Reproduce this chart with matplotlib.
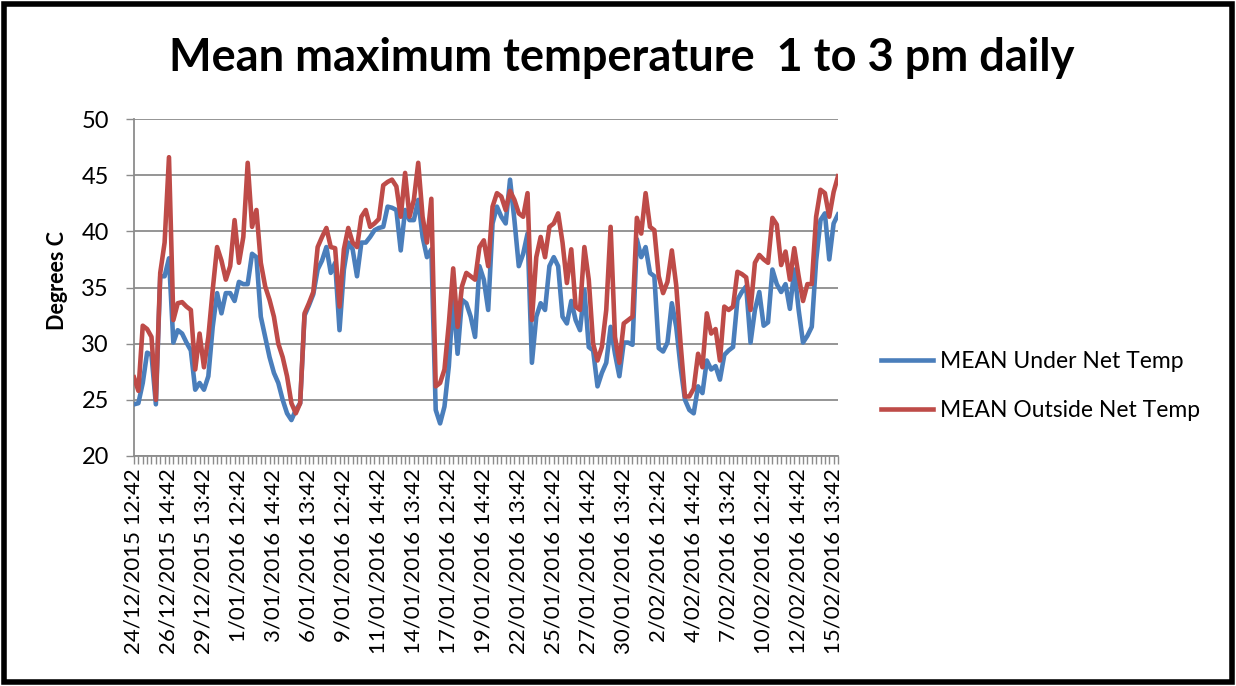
import numpy as np
import matplotlib
matplotlib.use("Agg")
import matplotlib.pyplot as plt
from matplotlib.patches import Rectangle

plt.rcParams["font.family"] = ["Lato", "DejaVu Sans"]

# readings taken at 12:42, 13:42 and 14:42 each day, 24/12/2015 - 15/02/2016
under_net = [
    24.6, 24.7, 26.5, 29.2, 29.0, 24.6, 36.0, 36.0, 37.6, 30.1,
    31.2, 30.9, 30.1, 29.4, 25.9, 26.5, 25.9, 27.1, 31.5, 34.5,
    32.7, 34.5, 34.5, 33.8, 35.5, 35.3, 35.3, 38.0, 37.7, 32.4,
    30.6, 28.8, 27.4, 26.5, 25.0, 23.8, 23.2, 24.1, 24.7, 32.5,
    33.4, 34.4, 36.6, 37.4, 38.6, 36.3, 37.2, 31.2, 36.6, 39.0,
    38.4, 36.0, 39.0, 39.0, 39.5, 40.1, 40.3, 40.4, 42.2, 42.1,
    41.9, 38.3, 41.9, 41.0, 41.0, 42.8, 39.5, 37.7, 38.4, 24.1,
    22.9, 24.4, 28.0, 34.2, 29.1, 33.9, 33.6, 32.4, 30.6, 36.9,
    35.7, 33.0, 40.7, 42.2, 41.3, 40.7, 44.6, 41.0, 36.9, 38.0,
    39.8, 28.3, 32.4, 33.6, 33.0, 36.9, 37.7, 36.9, 32.4, 31.8,
    33.8, 32.1, 31.2, 34.8, 29.7, 29.4, 26.2, 27.4, 28.3, 31.5,
    29.1, 27.1, 30.1, 30.1, 29.9, 39.3, 37.7, 38.6, 36.3, 36.0,
    29.6, 29.3, 30.1, 33.6, 31.5, 27.9, 25.0, 24.1, 23.8, 26.2,
    25.6, 28.5, 27.7, 28.0, 26.8, 29.0, 29.4, 29.7, 33.9, 34.6,
    35.1, 30.1, 33.0, 34.6, 31.6, 31.9, 36.6, 35.3, 34.6, 35.3,
    33.1, 36.6, 33.0, 30.1, 30.7, 31.5, 37.4, 41.0, 41.6, 37.5,
    40.7, 41.5,
]

outside_net = [
    27.0, 25.8, 31.6, 31.3, 30.6, 25.0, 36.3, 39.0, 46.6, 32.1,
    33.6, 33.7, 33.3, 33.0, 27.7, 30.9, 27.9, 30.6, 34.8, 38.6,
    37.4, 35.7, 36.9, 41.0, 37.2, 39.5, 46.1, 40.4, 41.9, 37.2,
    35.1, 33.9, 32.4, 30.0, 28.8, 27.1, 24.7, 23.8, 24.7, 32.7,
    33.6, 34.6, 38.6, 39.5, 40.3, 38.6, 38.5, 33.3, 38.4, 40.3,
    39.0, 38.6, 41.3, 41.9, 40.4, 40.7, 41.1, 44.1, 44.4, 44.6,
    44.0, 41.3, 45.2, 41.3, 42.8, 46.1, 41.3, 39.0, 42.9, 26.2,
    26.5, 27.7, 31.8, 36.7, 31.5, 35.1, 36.3, 36.0, 35.7, 38.6,
    39.2, 36.9, 42.2, 43.4, 43.1, 41.9, 43.6, 42.8, 41.6, 41.3,
    43.4, 32.1, 37.7, 39.5, 37.7, 40.4, 40.7, 41.6, 39.0, 35.4,
    38.4, 33.3, 33.0, 38.6, 35.7, 30.0, 28.5, 29.7, 33.0, 40.4,
    30.6, 28.3, 31.8, 32.1, 32.4, 41.2, 39.8, 43.4, 40.4, 40.1,
    36.0, 34.5, 35.5, 38.3, 35.2, 30.0, 25.3, 25.3, 26.0, 29.1,
    27.9, 32.7, 30.9, 31.3, 28.5, 33.3, 33.0, 33.3, 36.4, 36.2,
    35.9, 33.0, 37.2, 37.9, 37.5, 37.2, 41.2, 40.6, 37.0, 38.2,
    35.7, 38.5, 36.0, 33.8, 35.3, 35.3, 41.3, 43.7, 43.4, 41.3,
    43.5, 44.9,
]

tick_labels = [
    "24/12/2015 12:42", "26/12/2015 14:42", "29/12/2015 13:42",
    "1/01/2016 12:42", "3/01/2016 14:42", "6/01/2016 13:42",
    "9/01/2016 12:42", "11/01/2016 14:42", "14/01/2016 13:42",
    "17/01/2016 12:42", "19/01/2016 14:42", "22/01/2016 13:42",
    "25/01/2016 12:42", "27/01/2016 14:42", "30/01/2016 13:42",
    "2/02/2016 12:42", "4/02/2016 14:42", "7/02/2016 13:42",
    "10/02/2016 12:42", "12/02/2016 14:42", "15/02/2016 13:42",
]
label_step = 8

blue = "#4A7EBB"
red = "#BE4B48"
grid_grey = "#8C8C8C"

fig = plt.figure(figsize=(12.36, 6.86), dpi=100)
ax = fig.add_axes([134 / 1236, 1 - 456 / 686, (838 - 134) / 1236, (456 - 119) / 686])

x = np.arange(len(under_net))
ax.plot(x, under_net, color=blue, lw=3.3, solid_joinstyle="round",
        label="MEAN Under Net Temp", zorder=3)
ax.plot(x, outside_net, color=red, lw=3.3, solid_joinstyle="round",
        label="MEAN Outside Net Temp", zorder=4)

ax.set_xlim(0, len(x) - 1)
ax.set_ylim(20, 50)
ax.set_yticks(np.arange(20, 51, 5))
ax.yaxis.grid(True, color=grid_grey, lw=1.3)
ax.set_axisbelow(True)

ax.set_xticks(np.arange(0, len(x), label_step))
ax.set_xticklabels(tick_labels, rotation=90, fontsize=16)
ax.set_xticks(x, minor=True)
ax.tick_params(axis="x", which="both", length=6, color=grid_grey, width=1, pad=3)
ax.tick_params(axis="y", length=6, color=grid_grey, width=1, labelsize=17, pad=12)

for side in ["top", "right"]:
    ax.spines[side].set_visible(False)
for side in ["left", "bottom"]:
    ax.spines[side].set_color(grid_grey)
    ax.spines[side].set_linewidth(1.3)

ax.set_ylabel("Degrees C", fontsize=15.5, fontweight="bold")
ax.yaxis.set_label_coords(-0.094, 0.52)

fig.text(622 / 1236, 1 - 58 / 686, "Mean maximum temperature  1 to 3 pm daily",
         ha="center", va="center", fontsize=32.5, fontweight="bold")

fig.legend(loc="center left", bbox_to_anchor=(860 / 1236, 1 - 386 / 686),
           frameon=False, fontsize=16.5, handlelength=2.3, handletextpad=0.3,
           labelspacing=1.25)

# chart border
fig.patches.append(Rectangle((4 / 1236, 4 / 686), 1 - 8 / 1236, 1 - 8 / 686,
                             transform=fig.transFigure, fill=False,
                             edgecolor="black", lw=4))

fig.savefig("out.png", dpi=100)
